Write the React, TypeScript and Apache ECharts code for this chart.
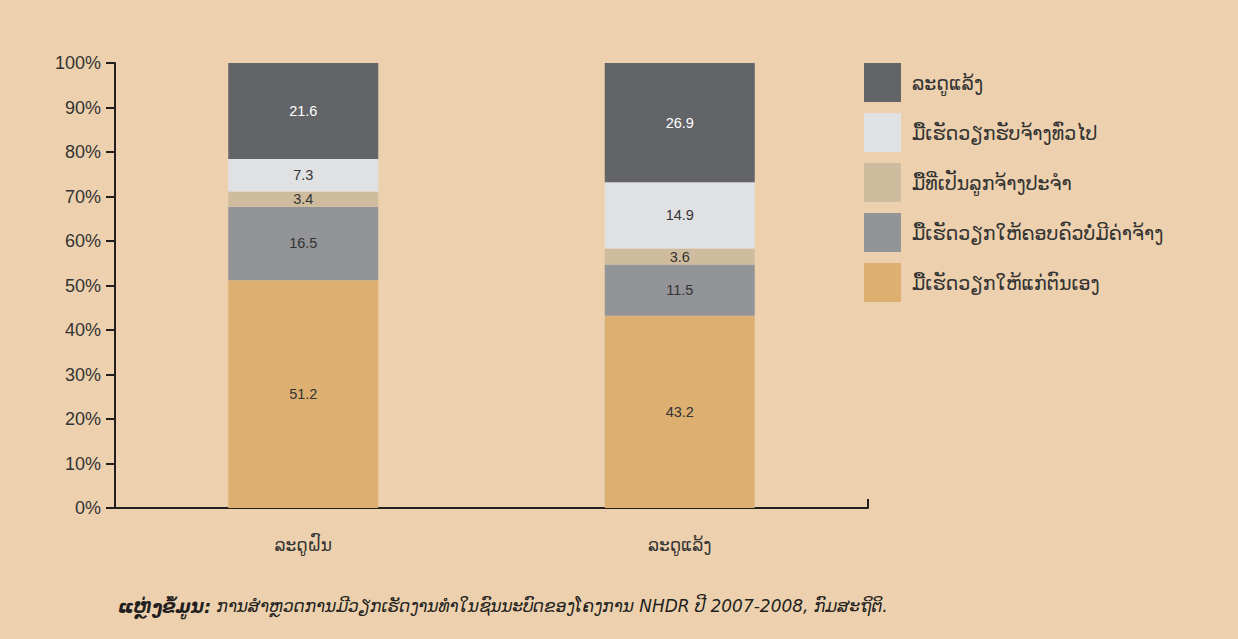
import React, { useEffect, useRef } from "react";
import * as echarts from "echarts";

const categories = ["ລະດູຝົນ", "ລະດູແລ້ງ"];
const seriesNames = [
  "ມື້ເຮັດວຽກໃຫ້ແກ່ຕົນເອງ",
  "ມື້ເຮັດວຽກໃຫ້ຄອບຄົວບໍ່ມີຄ່າຈ້າງ",
  "ມື້ທີ່ເປັນລູກຈ້າງປະຈຳ",
  "ມື້ເຮັດວຽກຮັບຈ້າງທົ່ວໄປ",
  "ລະດູແລ້ງ",
];
const selfEmployed = [51.2, 43.2];
const unpaidFamily = [16.5, 11.5];
const regularEmployee = [3.4, 3.6];
const casualWage = [7.3, 14.9];
const topSegment = [21.6, 26.9];
const yTicks = [0, 10, 20, 30, 40, 50, 60, 70, 80, 90, 100];
const colors = ["#DDAF70", "#939498", "#CFBC9F", "#E0E1E3", "#636468"];
const sourceLabel = "ແຫຼ່ງຂໍ້ມູນ:";
const sourceText =
  " ການສຳຫຼວດການມີວຽກເຮັດງານທຳໃນຊົນນະບົດຂອງໂຄງການ NHDR ປີ 2007-2008, ກົມສະຖິຕິ.";

const values = [selfEmployed, unpaidFamily, regularEmployee, casualWage, topSegment];

export default function App() {
  const ref = useRef<HTMLDivElement>(null);
  useEffect(() => {
    if (!ref.current) return;
    const chart = echarts.init(ref.current, null, { renderer: "svg" });
    const font = "'Liberation Sans', Arial, 'DejaVu Sans', sans-serif";
    const laoFont = "'DejaVu Sans', sans-serif";
    chart.setOption({
      animation: false,
      backgroundColor: "#EDD1AE",
      textStyle: { fontFamily: font },
      grid: { left: 115, right: 370, top: 63, bottom: 131 },
      legend: {
        orient: "vertical",
        left: 859,
        top: 58,
        itemWidth: 37,
        itemHeight: 39,
        itemGap: 11,
        icon: "rect",
        data: [...seriesNames].reverse(),
        textStyle: { fontFamily: laoFont, fontSize: 19, color: "#333", padding: [0, 0, 0, 6] },
        selectedMode: false,
      },
      xAxis: {
        type: "category",
        data: categories,
        axisLine: { lineStyle: { color: "#231f20", width: 2 } },
        axisTick: { show: false },
        axisLabel: { fontFamily: laoFont, fontSize: 17, color: "#333", margin: 28 },
      },
      yAxis: {
        type: "value",
        min: 0,
        max: 100,
        interval: 10,
        axisLine: { show: true, lineStyle: { color: "#231f20", width: 2 } },
        axisTick: { show: true, length: 9, lineStyle: { color: "#231f20", width: 2 } },
        splitLine: { show: false },
        axisLabel: {
          fontSize: 18,
          color: "#333",
          margin: 14,
          formatter: (v: number) => (yTicks.includes(v) ? v + "%" : ""),
        },
      },
      series: seriesNames.map((name, i) => ({
        name,
        type: "bar",
        stack: "total",
        barWidth: 150,
        data: values[i],
        itemStyle: { color: colors[i] },
        label: {
          show: true,
          position: "inside",
          fontSize: 14.5,
          color: i === 4 ? "#ffffff" : "#333",
          formatter: (p: any) => p.value.toFixed(1),
        },
      })),
      graphic: [
        {
          type: "text",
          left: 118,
          top: 597,
          style: {
            text: "{b|" + sourceLabel + "}{n|" + sourceText + "}",
            rich: {
              b: {
                fontFamily: laoFont,
                fontSize: 18,
                fontStyle: "italic",
                fontWeight: "bold",
                fill: "#231f20",
                color: "#231f20",
              },
              n: {
                fontFamily: laoFont,
                fontSize: 17,
                fontStyle: "italic",
                fill: "#231f20",
                color: "#231f20",
              },
            },
          },
        },
        {
          type: "line",
          shape: { x1: 868, y1: 508, x2: 868, y2: 499 },
          style: { stroke: "#231f20", lineWidth: 2 },
        },
      ],
    });
    return () => chart.dispose();
  }, []);
  return <div ref={ref} style={{ width: 1238, height: 639, position: "absolute", left: 0, top: 0 }} />;
}
